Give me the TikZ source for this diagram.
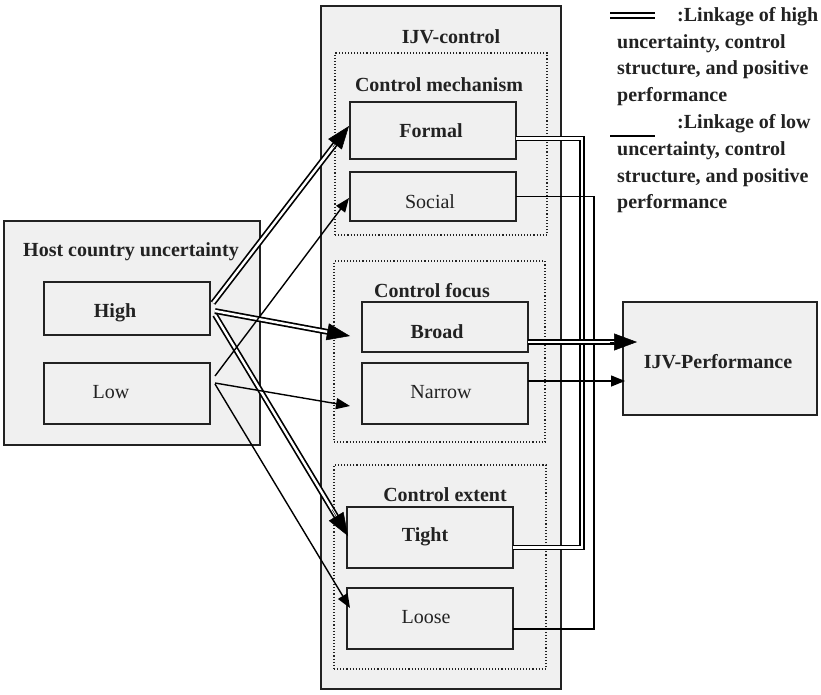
\documentclass[tikz,border=0pt]{standalone}
\usepackage{fontspec}
\setmainfont{Liberation Serif}
\usetikzlibrary{arrows.meta,calc}
\definecolor{boxgray}{HTML}{F0F0F0}
\definecolor{ink}{HTML}{222222}
\begin{document}
\begin{tikzpicture}[x=1pt,y=-1pt,
  box/.style={draw=ink, line width=1.4pt, fill=boxgray, inner sep=0pt, outer sep=0pt, anchor=north west},
  grp/.style={draw=ink, line width=1.1pt, dotted, inner sep=0pt, outer sep=0pt, anchor=north west},
  lbl/.style={font=\fontsize{20}{24}\selectfont\bfseries, text=ink, anchor=base, inner sep=0pt},
  rlbl/.style={font=\fontsize{20}{24}\selectfont, text=ink, anchor=base, inner sep=0pt},
  leg/.style={font=\fontsize{20}{24}\selectfont\bfseries, text=ink, anchor=base west, inner sep=0pt},
  hi/.style={draw=black, line width=1.7pt, double=white, double distance=2.4pt},
  lo/.style={draw=black, line width=1.4pt},
  bigtip/.style={draw=black, line width=0.5pt, -{Triangle[length=23pt,width=17pt]}},
  smalltip/.style={-{Triangle[length=14pt,width=11pt]}},
]
\useasboundingbox (0,0) rectangle (821,694);

% outer boxes
\node[box, minimum width=256pt, minimum height=224pt] (host) at (4,221) {};
\node[box, minimum width=240pt, minimum height=683pt] (ijv) at (321,6) {};
\node[box, minimum width=194pt, minimum height=113pt] (perf) at (623,302) {};

% groups
\node[grp, minimum width=212pt, minimum height=182pt] (mech) at (335,53) {};
\node[grp, minimum width=211pt, minimum height=181pt] (focus) at (334,261) {};
\node[grp, minimum width=212pt, minimum height=204pt] (extent) at (334,465) {};

% inner boxes
\node[box, minimum width=166pt, minimum height=53pt] (high) at (44,282) {};
\node[box, minimum width=166pt, minimum height=61pt] (low) at (44,363) {};
\node[box, minimum width=166pt, minimum height=57pt] (formal) at (350,102) {};
\node[box, minimum width=166pt, minimum height=49pt] (social) at (350,172) {};
\node[box, minimum width=166pt, minimum height=50pt] (broad) at (362,302) {};
\node[box, minimum width=166pt, minimum height=61pt] (narrow) at (362,363) {};
\node[box, minimum width=166pt, minimum height=61pt] (tight) at (347,507) {};
\node[box, minimum width=166pt, minimum height=61pt] (loose) at (347,588) {};

% texts
\node[lbl] (thost) at (131,256) {Host country uncertainty};
\node[lbl] (thigh) at (115,317) {High};
\node[rlbl] (tlow) at (111,398) {Low};
\node[lbl] (tijv) at (451,43) {IJV-control};
\node[lbl] (tmech) at (439,91) {Control mechanism};
\node[lbl] (tformal) at (431,137) {Formal};
\node[rlbl] (tsocial) at (430,208) {Social};
\node[lbl] (tfocus) at (432,297) {Control focus};
\node[lbl] (tbroad) at (437,338) {Broad};
\node[rlbl] (tnarrow) at (441,398) {Narrow};
\node[lbl] (textent) at (445,501) {Control extent};
\node[lbl] (ttight) at (425,541) {Tight};
\node[rlbl] (tloose) at (426,623) {Loose};
\node[lbl] (tperf) at (718,368) {IJV-Performance};

% legend
\coordinate (lh1) at (610,15.5);
\coordinate (lh2) at (655,15.5);
\coordinate (ll1) at (610,136);
\coordinate (ll2) at (655,136);
\draw[hi, line width=1.9pt] (lh1) -- (lh2);
\draw[lo, line width=1.8pt] (ll1) -- (ll2);
\node[leg] (leg1) at (677,21) {:Linkage of high};
\node[leg] (leg2) at (617,48) {uncertainty, control};
\node[leg] (leg3) at (617,74) {structure, and positive};
\node[leg] (leg4) at (617,101) {performance};
\node[leg] (leg5) at (677,128) {:Linkage of low};
\node[leg] (leg6) at (617,155) {uncertainty, control};
\node[leg] (leg7) at (617,182) {structure, and positive};
\node[leg] (leg8) at (617,208) {performance};

% high uncertainty links (double line + separate head)
\coordinate (h1s) at ([xshift=3pt,yshift=5.5pt]high.east);
\coordinate (h1e) at ([xshift=-1pt,yshift=4.5pt]formal.west);
\coordinate (h2s) at ([xshift=5pt,yshift=-2.5pt]high.east);
\coordinate (h2e) at ([xshift=-12pt,yshift=-9pt]broad.west);
\coordinate (h3s) at ([xshift=5pt,yshift=-6.5pt]high.east);
\coordinate (h3e) at ([xshift=1pt,yshift=1.5pt]tight.west);
\draw[hi, shorten >=18pt] (h1s) -- (h1e);
\draw[bigtip] ($(h1s)!0.88!(h1e)$) -- (h1e);
\draw[hi, shorten >=18pt] (h2s) -- (h2e);
\draw[bigtip] ($(h2s)!0.85!(h2e)$) -- (h2e);
\draw[hi, shorten >=18pt] (h3s) -- (h3e);
\draw[bigtip] ($(h3s)!0.88!(h3e)$) -- (h3e);

% low uncertainty links
\draw[lo, smalltip] ([xshift=5pt,yshift=17.5pt]low.east) -- ([xshift=-1pt,yshift=-1.5pt]social.west);
\draw[lo, smalltip] ([xshift=5pt,yshift=10.5pt]low.east) -- ([xshift=-12pt,yshift=-12.5pt]narrow.west);
\draw[lo, smalltip] ([xshift=5pt,yshift=9.5pt]low.east) -- ([xshift=3pt,yshift=10.5pt]loose.west);

% control to performance
\coordinate (fa) at (582,138.5);
\coordinate (fb) at (582,547.5);
\draw[hi] ([yshift=-8pt]formal.east) -- (fa) -- (fb) -- ([yshift=-10pt]tight.east);
\coordinate (sa) at (594,196.5);
\coordinate (sb) at (594,629);
\draw[lo] (social.east) -- (sa) -- (sb) -- ([yshift=-10.5pt]loose.east);
\coordinate (bs) at ([yshift=-15pt]broad.east);
\coordinate (be) at ([xshift=14pt,yshift=16.5pt]perf.west);
\draw[hi, shorten >=18pt] (bs) -- (be);
\draw[bigtip] ($(bs)!0.75!(be)$) -- (be);
\draw[lo, smalltip] ([yshift=12.5pt]narrow.east) -- ([xshift=2pt,yshift=-22.5pt]perf.west);
\end{tikzpicture}
\end{document}
